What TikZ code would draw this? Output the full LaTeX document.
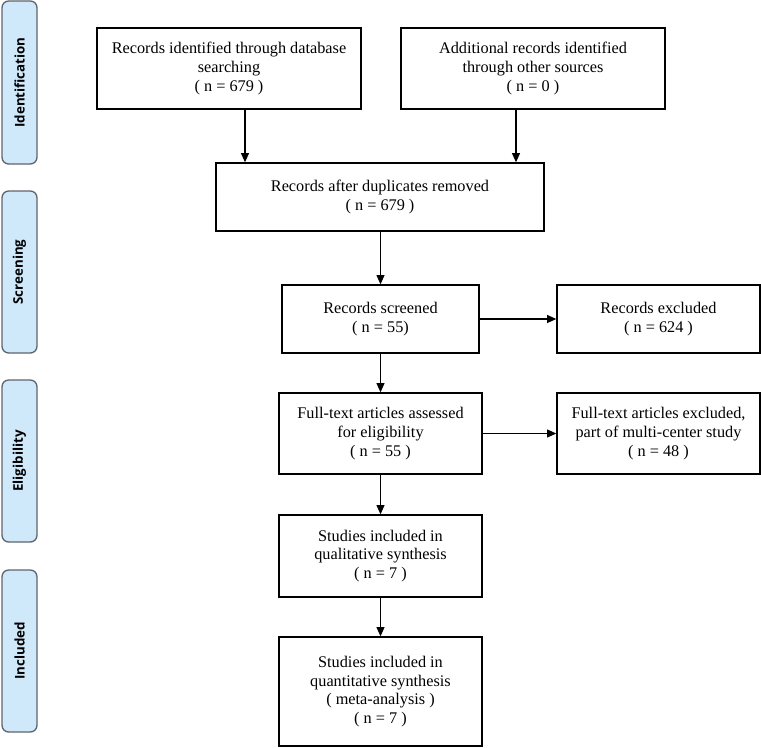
\documentclass[tikz,border=0pt]{standalone}
\usepackage{fontspec}
\setmainfont{Liberation Serif}
\newfontfamily\phasefont{Open Sans}
\usetikzlibrary{arrows.meta}
\definecolor{phasefill}{RGB}{207,233,251}
\definecolor{phaseline}{RGB}{95,100,108}

\tikzset{every picture/.style={line width=1pt}}
\tikzset{
  recbox/.style={draw, fill=white, align=center, inner sep=2pt, font=\fontsize{12.2}{14}\selectfont},
  phasebox/.style={draw=phaseline, fill=phasefill, rounded corners=5pt, rotate=90,
    minimum height=26.25pt, inner sep=0pt, font=\phasefont\bfseries\fontsize{10}{11}\selectfont},
  flow/.style={-{Triangle[length=7pt,width=6pt]}}
}

\begin{document}
\begin{tikzpicture}[x=0.75pt,y=0.75pt,yscale=-1,xscale=1]
\useasboundingbox (0,0) rectangle (761,747);

% Phase labels
\node [phasebox, minimum width=122.25pt] (idphase) at (19.5,82.5) {Identification};
\node [phasebox, minimum width=121.5pt] (scphase) at (19.5,272) {Screening};
\node [phasebox, minimum width=121.5pt] (elphase) at (19.5,461) {Eligibility};
\node [phasebox, minimum width=121.5pt] (inphase) at (19.5,651) {Included};

% Identification
\node [recbox, minimum width=198pt, minimum height=60.75pt] (dbrec) at (229,68.5)
  {Records identified through database\\searching\\( n = 679 )};
\node [recbox, minimum width=198pt, minimum height=60.75pt] (otherrec) at (533,68.5)
  {Additional records identified\\through other sources\\( n = 0 )};

% Screening
\node [recbox, minimum width=246pt, minimum height=51pt] (dedup) at (380,197)
  {Records after duplicates removed\\( n = 679 )};
\node [recbox, minimum width=147.75pt, minimum height=51pt] (screened) at (380.5,319)
  {Records screened\\( n = 55)};
\node [recbox, minimum width=152.25pt, minimum height=51pt] (excluded) at (658.5,319)
  {Records excluded\\( n = 624 )};

% Eligibility
\node [recbox, minimum width=152.25pt, minimum height=60.75pt] (fulltext) at (380.5,433.5)
  {Full-text articles assessed\\for eligibility\\( n = 55 )};
\node [recbox, minimum width=152.25pt, minimum height=60.75pt] (ftexcl) at (658.5,433.5)
  {Full-text articles excluded,\\part of multi-center study\\( n = 48 )};

% Included
\node [recbox, minimum width=152.25pt, minimum height=61.5pt] (qualit) at (380.5,556)
  {Studies included in\\qualitative synthesis\\( n = 7 )};
\node [recbox, minimum width=152.25pt, minimum height=81.75pt] (quantit) at (380.5,691.5)
  {Studies included in\\quantitative synthesis\\( meta-analysis )\\( n = 7 )};

% Arrows
\draw [flow] ([xshift=12pt]dbrec.south) -- ([xshift=12pt]dbrec.south |- dedup.north);
\draw [flow] ([xshift=-12.75pt]otherrec.south) -- ([xshift=-12.75pt]otherrec.south |- dedup.north);
\draw [flow] (dedup.south -| screened.north) -- (screened.north);
\draw [flow] (screened) -- (excluded);
\draw [flow] (screened) -- (fulltext);
\draw [flow] (fulltext) -- (ftexcl);
\draw [flow] (fulltext) -- (qualit);
\draw [flow] (qualit) -- (quantit);
\end{tikzpicture}
\end{document}
